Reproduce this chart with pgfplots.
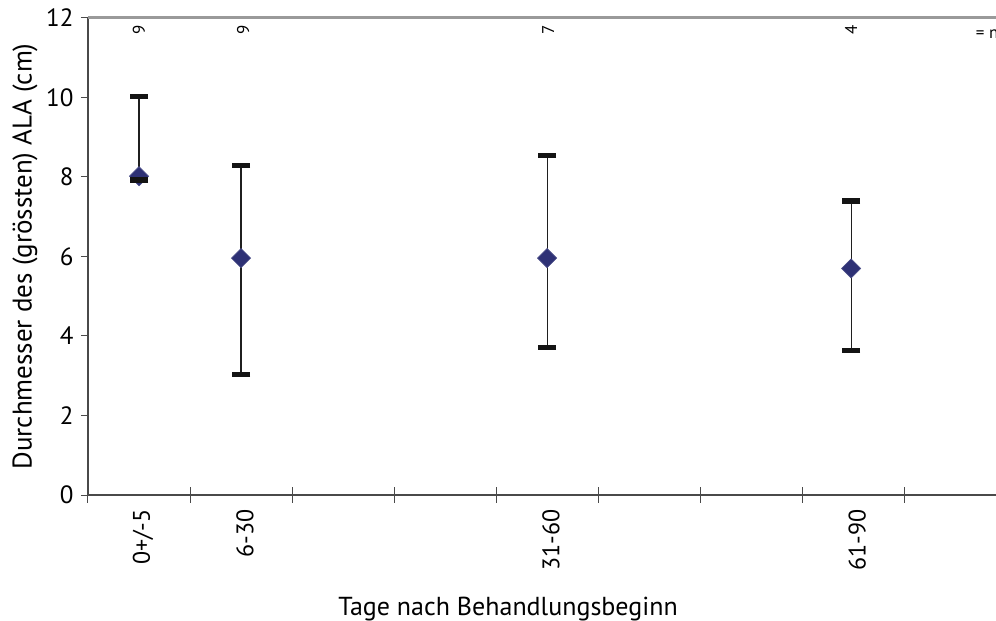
\documentclass[border=0pt]{standalone}
\usepackage{fontspec}
\setmainfont{PT Sans}
\usepackage{pgfplots}
\usepackage{pgfplotstable}
\pgfplotsset{compat=1.18}
\definecolor{navy}{HTML}{2E3175}
\definecolor{axisgray}{HTML}{4A4A4A}
\definecolor{topgray}{HTML}{9A9A9A}
\pgfplotstableread{
x     y     lo    hi
0.5   8.02  7.93  10.03
1.5   5.96  3.03  8.29
4.5   5.96  3.71  8.54
7.48  5.70  3.63  7.40
}\ala
\begin{document}
\begin{tikzpicture}
\path[use as bounding box] (-44pt,-63pt) rectangle (454pt,247.5pt);
\begin{axis}[
  scale only axis, width=454pt, height=238.5pt,
  xmin=0, xmax=8.9, ymin=0, ymax=12,
  clip=false,
  axis lines=left,
  axis line style={-, draw=axisgray, line width=0.9pt},
  xtick={0,...,9},
  xticklabels={0+/-5,6-30,,,31-60,,,61-90,},
  x tick label as interval,
  xticklabel style={rotate=90, anchor=east, font=\fontsize{12}{14}\selectfont, yshift=-2pt},
  ytick={0,2,...,12},
  yticklabel style={font=\fontsize{12.5}{14}\selectfont},
  /pgf/number format/assume math mode=true,
  tick align=center, major tick length=7.5pt,
  xtick style={draw=axisgray, line width=0.5pt},
  ytick style={draw=none},
  xlabel={Tage nach Behandlungsbeginn},
  xlabel style={font=\fontsize{13}{15}\selectfont, at={(axis description cs:0.4626,0)}, anchor=base, yshift=-60pt},
  ylabel={Durchmesser des (grössten) ALA (cm)},
  ylabel style={font=\fontsize{13.5}{16}\selectfont, at={(axis description cs:-0.0694,0.5)}, anchor=center},
]
\draw[topgray, line width=1.5pt] (rel axis cs:0,1) -- (rel axis cs:1,1);
\addplot[only marks, mark=square*, mark size=3.4pt,
  mark options={rotate=45, fill=navy, draw=navy!85!white, line width=0.3pt},
  error bars/.cd, y dir=both, y explicit, error mark=none,
  error bar style={line width=0.55pt, black!88}]
  table[x=x, y=y, y error plus expr=\thisrow{hi}-\thisrow{y}, y error minus expr=\thisrow{y}-\thisrow{lo}] {\ala};
\addplot[only marks, mark=-, mark size=4.5pt, mark options={line width=2.75pt, black!92}]
  table[x=x, y=hi] {\ala};
\addplot[only marks, mark=-, mark size=4.5pt, mark options={line width=2.75pt, black!92}]
  table[x=x, y=lo] {\ala};
\node[rotate=90, font=\fontsize{8.5}{10}\selectfont, inner sep=0pt] at (axis cs:0.5,11.7) {9};
\node[rotate=90, font=\fontsize{8.5}{10}\selectfont, inner sep=0pt] at (axis cs:1.52,11.7) {9};
\node[rotate=90, font=\fontsize{8.5}{10}\selectfont, inner sep=0pt] at (axis cs:4.51,11.7) {7};
\node[rotate=90, font=\fontsize{8.5}{10}\selectfont, inner sep=0pt] at (axis cs:7.48,11.7) {4};
\node[font=\fontsize{8.5}{10}\selectfont, anchor=west, inner sep=0pt] at (axis cs:8.7,11.6) {= n};
\end{axis}
\begin{axis}[
  scale only axis, width=454pt, height=238.5pt,
  xmin=0, xmax=8.9, ymin=0, ymax=12,
  axis x line=none, axis y line=left,
  axis line style={-, draw=none},
  ytick={0,2,...,12}, yticklabels={},
  tick align=outside, major tick length=3.5pt,
  ytick style={draw=axisgray, line width=0.5pt},
]
\end{axis}
\end{tikzpicture}
\end{document}
